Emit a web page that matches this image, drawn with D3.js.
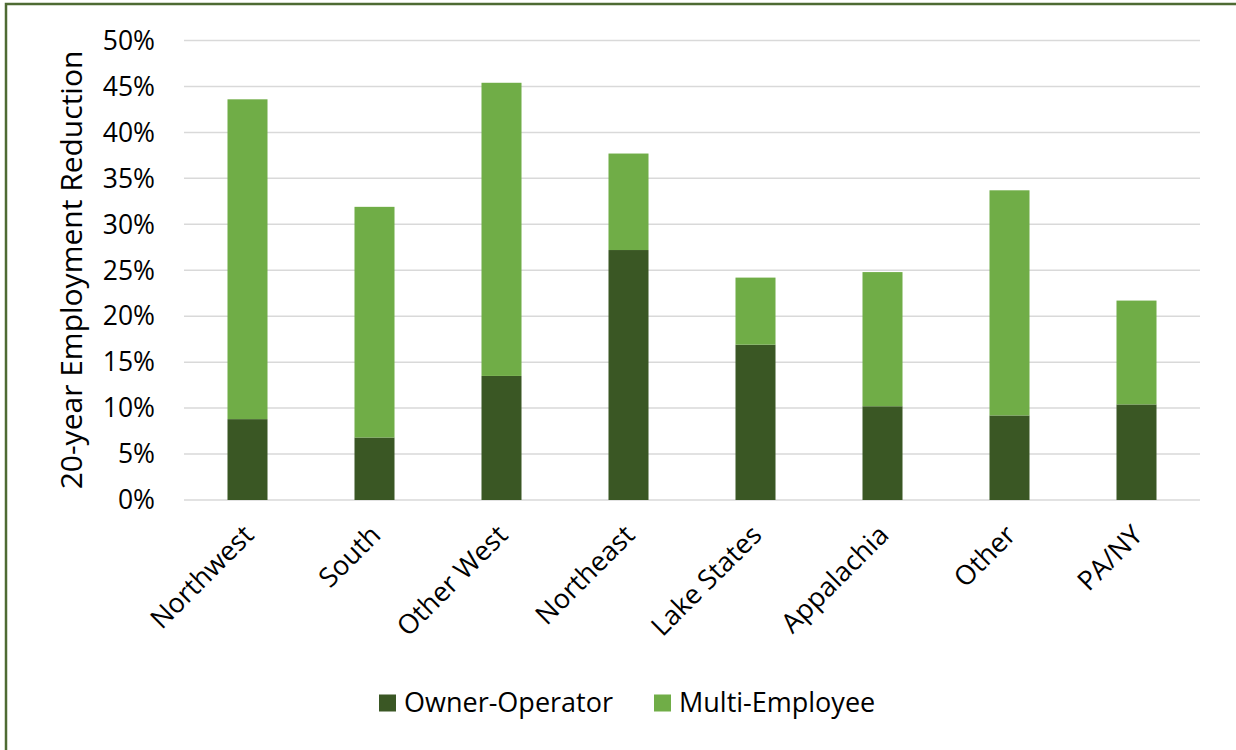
<!DOCTYPE html>
<html>
<head>
<meta charset="utf-8">
<script src="https://cdn.jsdelivr.net/npm/d3@7"></script>
<style>
  body { margin: 0; background: #fff; }
  svg { display: block; }
  text { font-family: "Open Sans", sans-serif; fill: #000; }
</style>
</head>
<body>
<div id="chart"></div>
<script>
var vWidth = 1236;
var vHeight = 750;

// data (percent)
var regions = ["Northwest", "South", "Other West", "Northeast", "Lake States", "Appalachia", "Other", "PA/NY"];
var ownerOperator = [8.8, 6.8, 13.5, 27.2, 16.9, 10.2, 9.2, 10.4];
var multiEmployee = [34.8, 25.1, 31.9, 10.5, 7.3, 14.6, 24.5, 11.3];
var yTicks = [0, 5, 10, 15, 20, 25, 30, 35, 40, 45, 50];
var seriesNames = ["Owner-Operator", "Multi-Employee"];
var seriesColors = ["#3a5724", "#70ad47"];

var svg = d3.select("#chart")
    .append("svg")
    .attr("width", vWidth)
    .attr("height", vHeight);

// outer frame
svg.append("rect")
    .attr("x", 6).attr("y", 4)
    .attr("width", vWidth + 20).attr("height", vHeight + 20)
    .attr("fill", "none")
    .attr("stroke", "#4e6b33")
    .attr("stroke-width", 2.5);

var x = d3.scaleBand()
    .domain(regions)
    .range([184, 1200])
    .paddingInner(0.685)
    .paddingOuter(0.3425);

var y = d3.scaleLinear()
    .domain([0, 50])
    .range([500, 40.5]);

// gridlines
svg.append("g")
    .selectAll("line")
    .data(yTicks)
    .enter().append("line")
    .attr("x1", 184).attr("x2", 1200)
    .attr("y1", d => y(d)).attr("y2", d => y(d))
    .attr("stroke", "#d9d9d9")
    .attr("stroke-width", 1.5);

// y tick labels
svg.append("g")
    .selectAll("text")
    .data(yTicks)
    .enter().append("text")
    .attr("x", 155)
    .attr("y", d => y(d))
    .attr("dy", "0.35em")
    .attr("text-anchor", "end")
    .attr("font-size", 26.5)
    .text(d => d + "%");

// stack the two series
var rows = regions.map(function (r, i) {
    return { region: r, "Owner-Operator": ownerOperator[i], "Multi-Employee": multiEmployee[i] };
});
var stacked = d3.stack().keys(seriesNames)(rows);

svg.append("g")
    .selectAll("g")
    .data(stacked)
    .enter().append("g")
    .attr("fill", (d, i) => seriesColors[i])
    .selectAll("rect")
    .data(d => d)
    .enter().append("rect")
    .attr("x", d => x(d.data.region))
    .attr("width", x.bandwidth())
    .attr("y", d => y(d[1]))
    .attr("height", d => y(d[0]) - y(d[1]));

// x labels, rotated
svg.append("g")
    .selectAll("text")
    .data(regions)
    .enter().append("text")
    .attr("transform", d => "translate(" + (x(d) + x.bandwidth() / 2 - 6) + ",523) rotate(-45)")
    .attr("dy", "0.72em")
    .attr("text-anchor", "end")
    .attr("font-size", 27)
    .text(d => d);

// y axis title
svg.append("text")
    .attr("transform", "translate(82,270) rotate(-90)")
    .attr("text-anchor", "middle")
    .attr("font-size", 30)
    .text("20-year Employment Reduction");

// legend
var legend = svg.append("g")
    .selectAll("g")
    .data(seriesNames)
    .enter().append("g")
    .attr("transform", (d, i) => "translate(" + [379, 654][i] + ",703)");

legend.append("rect")
    .attr("x", 0).attr("y", -8.5)
    .attr("width", 17).attr("height", 17)
    .attr("fill", (d, i) => seriesColors[i]);

legend.append("text")
    .attr("x", 25)
    .attr("y", 0)
    .attr("dy", "0.35em")
    .attr("font-size", 27)
    .text(d => d);
</script>
</body>
</html>
